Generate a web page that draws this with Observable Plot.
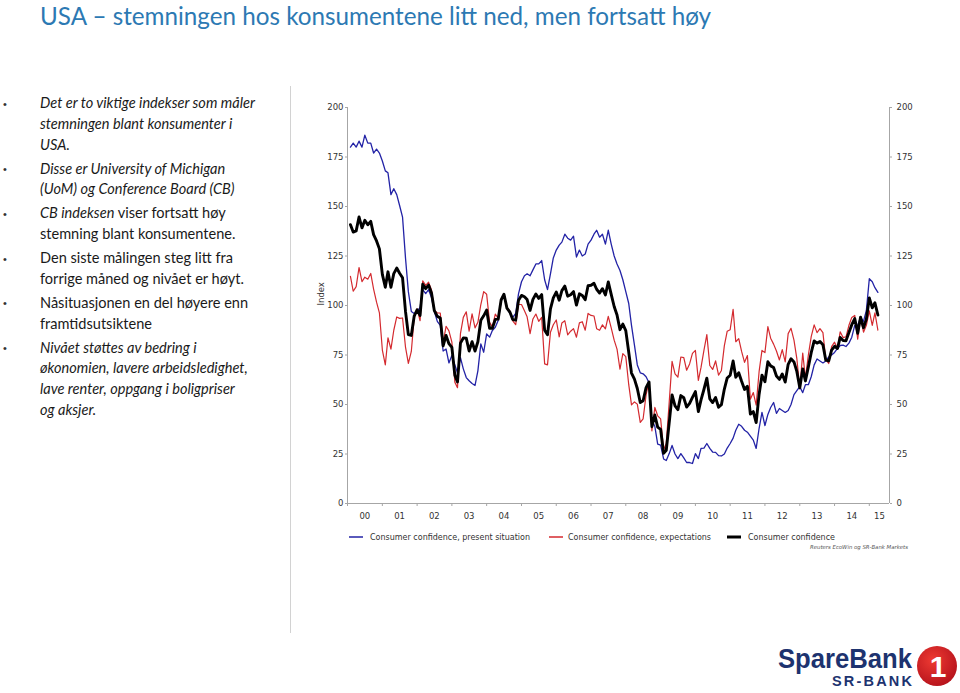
<!DOCTYPE html>
<html><head><meta charset="utf-8">
<script src="https://cdn.jsdelivr.net/npm/d3@7"></script>
<script src="https://cdn.jsdelivr.net/npm/@observablehq/plot@0.6"></script>
<style>
html,body{margin:0;padding:0;background:#fff;}
#page{position:relative;width:960px;height:693px;overflow:hidden;background:#fff;}
#deco{position:absolute;left:0;top:0;z-index:2;pointer-events:none;}
#chart{position:absolute;left:300px;top:95px;z-index:1;}
</style></head>
<body><div id="page"><div id="chart"></div><svg id="deco" width="960" height="693"></svg></div>
<script>
// ---------------- DATA (monthly, Feb 2000 – Apr 2015) ----------------
const firstMonth = {year: 2000, month: 2};

const presentSituation = [
  180,182,180,183,180,186,182,182,177,179,177,                       // 2000 (Feb–Dec)
  173,168,167,156,159,156,150.5,144.6,124,107,97,96,                 // 2001
  97,99,108,106,108,104,97,92,90,77,78,71,                           // 2002
  74.7,70,66,73.7,68,63.6,62,60.6,59.6,67,80.6,76.4,                 // 2003
  85.7,84,87.4,89,92.4,102,106,99,96,94,96,106,                      // 2004
  112,115,116,115,118,121,121,122.7,113,108,116,124,                 // 2005
  128,130.5,132,136,134,133,135,124.5,128,125,126,131,               // 2006
  133,136,138,134.5,136,131,138,131,125,121,117.7,113,               // 2007
  107,101,90,80,70,66,65.5,64,61,42,39,30,                           // 2008
  29.5,22.5,21.7,25.2,29.3,25,22.7,25.2,23,20.7,20.7,20.2,           // 2009
  25.2,22.7,27.8,28,30.3,27.8,26,25.8,24.2,24,25,28,                 // 2010
  30.3,33,37,40,39,37,36,34,32,27.8,38,46,                           // 2011
  39.4,45,48.5,51,45.5,48,47,46,47,50,55,57,                         // 2012
  59,56,60,60,64,70,73,72,71,72,74,75,                               // 2013
  76.3,78.3,79.8,80,79.3,81,84,90,90,94,92,97.5,                     // 2014
  113.5,112,109,106.6                                                // 2015 (Jan–Apr)
];

const expectations = [
  114.7,107.2,109.5,119.2,112,114.3,113.3,116.2,108.3,101.7,96.3,
  77.5,70,83.7,78,87.5,94.2,93.5,93.7,79,70.8,76.8,93.7,
  98.3,92.3,112.5,110.2,111.8,107.8,97.7,96.2,96.2,81.3,89.5,87.2,
  81.5,61.3,58.5,85.8,94,96.8,87,95.8,88.7,91.5,100.5,107,
  105.7,91.5,89.2,95.7,93.5,103.3,105.5,98.5,97.2,92.2,90.3,100.5,
  100.5,97.3,94.3,85.8,93.2,95.7,92,94,70.5,70,86.5,90.3,
  92.7,84.2,91.2,92.3,85.2,87,88.3,84,91.2,91.8,87.5,96,
  95,94.7,88.3,87.5,90.2,88.2,94.5,88.7,82.5,78,67.8,75.7,
  74.2,60,49.8,51.3,50.2,41,42.8,54.8,61.7,36.7,48.5,44.3,
  42.7,27.2,30.3,51.2,71.8,65.5,63.8,74,73.7,67.3,70.5,75.8,
  77.3,62.2,68.7,77.5,85.3,69.7,67.7,72,64.8,67.2,79.7,87,
  87.8,98,81.7,83.3,76.8,71.3,74.7,52.7,56,49.7,66.7,77.3,
  76.2,89.3,83.5,80.5,77,72.5,77.7,71.5,85.8,88.5,82.5,73.2,
  58,76,63.2,75,84.3,90.2,86.3,88.3,86.3,72.7,70.7,79.2,
  81.5,78.3,86.7,83.8,84.2,90,94,95,83,94,86.5,90,
  97.3,90,96.3,87.6
];

const confidence = [
  140.8,137.1,137.7,144.7,139.2,143.0,140.8,142.5,135.8,132.6,128.6,
  115.7,109.2,117.0,109.2,116.1,118.9,116.3,114.0,97.0,85.3,84.9,94.6,
  97.8,95.0,110.7,108.5,110.3,106.3,97.4,94.5,93.7,79.6,84.9,80.7,
  78.8,64.8,61.4,81.0,83.6,83.5,77.0,81.7,77.0,81.7,92.5,94.8,
  97.7,88.5,88.5,93.0,93.1,102.8,105.7,98.7,96.7,92.9,92.6,102.7,
  105.1,104.4,103.0,97.5,103.1,105.8,103.6,105.5,87.5,85.2,98.3,103.8,
  106.8,102.7,107.5,109.8,104.7,105.4,107.0,100.2,105.9,105.1,102.9,110.0,
  110.2,111.2,108.2,106.3,108.5,105.3,111.9,105.6,99.5,95.2,87.8,90.6,
  87.3,76.4,65.9,62.8,58.1,51.0,51.9,58.5,61.4,38.8,44.7,38.6,
  37.4,25.3,26.9,40.8,54.8,49.3,47.4,54.5,53.4,48.7,50.6,53.6,
  56.5,46.4,52.3,57.7,63.3,52.9,51.0,53.5,48.6,49.9,57.8,63.4,
  64.8,72.0,63.8,66.0,61.7,57.6,59.2,45.2,46.4,40.9,55.2,64.8,
  61.5,71.6,69.5,68.7,64.4,62.7,65.4,61.3,70.3,73.1,71.5,66.7,
  58.4,68.0,61.9,69.0,76.2,82.1,81.0,81.8,80.2,72.4,72.0,77.5,
  79.4,78.3,83.9,82.3,82.2,86.4,90.3,93.4,86.0,94.1,88.7,93.1,
  103.8,98.8,101.4,95.2
];

const seriesNames = ["Consumer confidence, present situation", "Consumer confidence, expectations", "Consumer confidence"];
const seriesColors = ["#2323a6", "#d42a2f", "#000000"];
const seriesWidths = [1.3, 1.2, 2.9];
const yTicks = [0, 25, 50, 75, 100, 125, 150, 175, 200];
const xLabels = ["00","01","02","03","04","05","06","07","08","09","10","11","12","13","14","15"];
const yLabel = "Index";
const source = "Reuters EcoWin og SR-Bank Markets";

const title = "USA \u2013 stemningen hos konsumentene litt ned, men fortsatt høy";
const bullets = [
  [[["Det er to viktige indekser som måler", 1]], [["stemningen blant konsumenter i", 1]], [["USA.", 1]]],
  [[["Disse er University of Michigan", 1]], [["(UoM) og Conference Board (CB)", 1]]],
  [[["CB indeksen", 1], [" viser fortsatt høy", 0]], [["stemning blant konsumentene.", 0]]],
  [[["Den siste målingen steg litt fra", 0]], [["forrige måned og nivået er høyt.", 0]]],
  [[["Nåsituasjonen en del høyere enn", 0]], [["framtidsutsiktene", 0]]],
  [[["Nivået støttes av bedring i", 1]], [["økonomien, lavere arbeidsledighet,", 1]], [["lave renter, oppgang i boligpriser", 1]], [["og aksjer.", 1]]]
];

// ---------------- CHART ----------------
const monthDate = i => new Date(Date.UTC(firstMonth.year, firstMonth.month - 1 + i, 1));
const rows = [];
[presentSituation, expectations, confidence].forEach((arr, s) =>
  arr.forEach((v, i) => rows.push({date: monthDate(i), value: v, series: seriesNames[s]})));

const xStart = new Date(Date.UTC(2000, 0, 1));
const xEnd = new Date(Date.UTC(2015, 7, 1));
const yearStarts = d3.range(2000, 2016).map(y => new Date(Date.UTC(y, 0, 1)));
const labelRows = xLabels.map((t, k) => ({
  text: t,
  date: k < xLabels.length - 1 ? new Date(Date.UTC(2000 + k, 6, 1)) : new Date((Date.UTC(2015, 0, 1) + xEnd.getTime()) / 2)
}));

const lineMark = s => Plot.line(rows.filter(d => d.series === seriesNames[s]),
  {x: "date", y: "value", stroke: seriesColors[s], strokeWidth: seriesWidths[s], strokeLinejoin: "round"});

const chart = Plot.plot({
  width: 630, height: 465,
  marginLeft: 47, marginRight: 41, marginTop: 12, marginBottom: 57,
  style: {fontFamily: "DejaVu Sans, Verdana, sans-serif", fontSize: "8.5px", color: "#333", background: "transparent", overflow: "visible"},
  x: {type: "utc", domain: [xStart, xEnd]},
  y: {domain: [0, 200]},
  marks: [
    Plot.ruleX([xStart, xEnd], {stroke: "#a6a6a6", strokeWidth: 1}),
    Plot.ruleY([0], {stroke: "#a6a6a6", strokeWidth: 1}),
    Plot.axisY({anchor: "left", ticks: yTicks, tickSize: 2, tickPadding: 2, label: null, stroke: "#a6a6a6", fill: "#333"}),
    Plot.axisY({anchor: "right", ticks: yTicks, tickSize: 2, tickPadding: 5, label: null, stroke: "#a6a6a6", fill: "#333"}),
    Plot.axisX({ticks: yearStarts, tickSize: 3, tickFormat: () => "", label: null, stroke: "#a6a6a6"}),
    Plot.text(labelRows, {x: "date", y: () => 0, dy: 13, text: "text", fill: "#333"}),
    Plot.text([yLabel], {frameAnchor: "left", dx: -26, rotate: -90, text: d => d, fill: "#333"}),
    lineMark(0), lineMark(1), lineMark(2)
  ]
});
document.getElementById("chart").appendChild(chart);

// ---------------- DECORATION (title, text, legend, logo) ----------------
const ctx = document.createElement("canvas").getContext("2d");
function fitSize(text, fontFn, target) { ctx.font = fontFn(100); return 100 * target / ctx.measureText(text).width; }

const deco = d3.select("#deco");
const bodyFont = "Lato, 'Open Sans', sans-serif";
const titleSize = fitSize(title, s => `${s}px Lato`, 672);
deco.append("text").attr("x", 40).attr("y", 25).attr("font-family", bodyFont)
  .attr("font-size", titleSize).attr("fill", "#2c79b3").text(title);

const bodySize = fitSize("Det er to viktige indekser som måler", s => `italic ${s}px Lato`, 216);
let base = 108.3;
bullets.forEach((lines, b) => {
  if (b > 0) base += 24;
  deco.append("text").attr("x", 3).attr("y", base - 0.5).attr("font-family", "Arial, sans-serif")
    .attr("font-size", 11).attr("fill", "#333").text("\u2022");
  lines.forEach((segs, l) => {
    if (l > 0) base += 20.7;
    const t = deco.append("text").attr("x", 40).attr("y", base).attr("font-family", bodyFont)
      .attr("font-size", bodySize).attr("fill", "#1a1a1a");
    segs.forEach(([txt, it]) => t.append("tspan").attr("font-style", it ? "italic" : "normal").text(txt));
  });
});

deco.append("line").attr("x1", 290.5).attr("x2", 290.5).attr("y1", 86).attr("y2", 633)
  .attr("stroke", "#d2d2d2").attr("stroke-width", 1);

// legend
const legendX = [[349, 370, 160], [549, 568, 143], [727, 748, 87]];
legendX.forEach(([sx, tx, w], s) => {
  deco.append("line").attr("x1", sx).attr("x2", sx + 14).attr("y1", 537).attr("y2", 537)
    .attr("stroke", seriesColors[s]).attr("stroke-width", s === 2 ? 3 : 1.5);
  deco.append("text").attr("x", tx).attr("y", 540).attr("font-family", "DejaVu Sans, sans-serif")
    .attr("font-size", 8).attr("fill", "#333").attr("textLength", w).attr("lengthAdjust", "spacingAndGlyphs")
    .text(seriesNames[s]);
});
deco.append("text").attr("x", 810).attr("y", 548.5).attr("font-family", "DejaVu Sans, sans-serif")
  .attr("font-style", "italic").attr("font-size", 5.5).attr("fill", "#555")
  .attr("textLength", 98).attr("lengthAdjust", "spacingAndGlyphs").text(source);

// logo
deco.append("text").attr("x", 778).attr("y", 668).attr("font-family", "Liberation Sans, Arial, sans-serif")
  .attr("font-weight", "bold").attr("font-size", 27).attr("fill", "#1d336f")
  .attr("textLength", 134).attr("lengthAdjust", "spacingAndGlyphs").text("SpareBank");
deco.append("text").attr("x", 832).attr("y", 686).attr("font-family", "Liberation Sans, Arial, sans-serif")
  .attr("font-weight", "bold").attr("font-size", 14.5).attr("fill", "#1d336f")
  .attr("textLength", 80).attr("lengthAdjust", "spacing").text("SR-BANK");
const grad = deco.append("defs").append("radialGradient").attr("id", "rg").attr("cx", "40%").attr("cy", "35%").attr("r", "70%");
grad.append("stop").attr("offset", "0%").attr("stop-color", "#ee3a33");
grad.append("stop").attr("offset", "100%").attr("stop-color", "#b5121b");
deco.append("circle").attr("cx", 937).attr("cy", 666).attr("r", 20).attr("fill", "url(#rg)");
deco.append("text").attr("x", 938).attr("y", 677).attr("text-anchor", "middle")
  .attr("font-family", "Liberation Sans, Arial, sans-serif").attr("font-weight", "bold")
  .attr("font-size", 30).attr("fill", "#fff").text("1");
</script>
</body></html>
